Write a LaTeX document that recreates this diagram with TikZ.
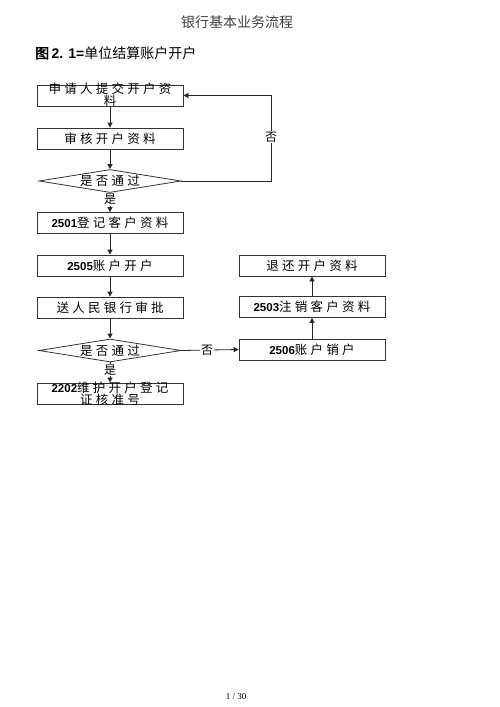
\documentclass[tikz,border=0pt]{standalone}
\usepackage{fontspec}
\usetikzlibrary{shapes.geometric,arrows.meta}
\newfontfamily\cjk[AutoFakeBold=2]{Noto Sans CJK SC}
\newfontfamily\cjksp[LetterSpace=26]{Noto Sans CJK SC}
\newfontfamily\arialf{Liberation Sans}
\newfontfamily\timesf{Liberation Serif}
\newcommand\dgt[1]{{\arialf\bfseries\fontsize{11.5}{12}\selectfont #1}}
\begin{document}
\begin{tikzpicture}[x=1pt,y=-1pt,
  box/.style={draw=black!80,line width=0.8pt,minimum width=146pt,minimum height=21pt,inner sep=0pt},
  dia/.style={draw=black!80,line width=0.8pt,diamond,minimum width=142pt,minimum height=23pt,inner sep=0pt},
  lbl/.style={font=\cjksp\fontsize{12.5}{12}\selectfont,inner sep=0pt,align=center},
  arr/.style={draw=black!85,line width=0.8pt,-{Triangle[length=5pt,width=5pt]}},
  yn/.style={font=\cjk\fontsize{12}{12}\selectfont,fill=white,inner sep=1pt}]
\useasboundingbox (0,0) rectangle (500,707);
\node[font=\cjk\fontsize{14}{14}\selectfont,text=black!75] (title) at (237,22.5) {银行基本业务流程};
\node[anchor=west,inner sep=0pt] (head) at (35,53) {\cjk\fontsize{14}{14}\selectfont\textbf{图}\,\arialf\bfseries 2. 1=\cjk\mdseries 单位结算账户开户};
% left column
\node[box] (b1) at (110,95.5) {};
\node[lbl] (t1) at (110,95) {申请人提交开户资\\料};
\node[box] (b2) at (110,138.5) {};
\node[lbl] (t2) at (b2) {审核开户资料};
\node[dia] (d1) at (110,181) {};
\node[lbl] (td1) at (d1) {是否通过};
\node[box] (b3) at (110,223) {};
\node[lbl] (t3) at (b3) {\dgt{2501}登记客户资料};
\node[box] (b4) at (110,265.5) {};
\node[lbl] (t4) at (b4) {\dgt{2505}账户开户};
\node[box] (b5) at (110,307.5) {};
\node[lbl] (t5) at (b5) {送人民银行审批};
\node[dia] (d2) at (110,350.5) {};
\node[lbl] (td2) at (d2) {是否通过};
\node[box] (b6) at (110,393.5) {};
\node[lbl] (t6) at (110,393.5) {\dgt{2202}维护开户登记\\证核准号};
% right column
\node[box] (r1) at (312,265.5) {};
\node[lbl] (tr1) at (r1) {退还开户资料};
\node[box] (r2) at (312,307) {};
\node[lbl] (tr2) at (r2) {\dgt{2503}注销客户资料};
\node[box] (r3) at (312,349.5) {};
\node[lbl] (tr3) at (r3) {\dgt{2506}账户销户};
% connectors
\draw[arr] (b1) -- (b2);
\draw[arr] (b2) -- (d1);
\draw[arr] (d1) -- (b3);
\draw[arr] (b3) -- (b4);
\draw[arr] (b4) -- (b5);
\draw[arr] (b5) -- (d2);
\draw[arr] (d2) -- (b6);
\coordinate (c1) at (271,95.5);
\draw[arr] (d1.east) -| (c1) -- (b1.east);
\draw[arr] (d2.east) -- (r3.west);
\draw[arr] (r3) -- (r2);
\draw[arr] (r2) -- (r1);
\node[yn] (n1) at (271,137) {否};
\node[yn] (n2) at (207,350.5) {否};
\node[yn] (y1) at (110,199.5) {是};
\node[yn] (y2) at (110,370) {是};
\node[font=\timesf\fontsize{9}{9}\selectfont] (pg) at (236,697) {1 / 30};
\end{tikzpicture}
\end{document}
